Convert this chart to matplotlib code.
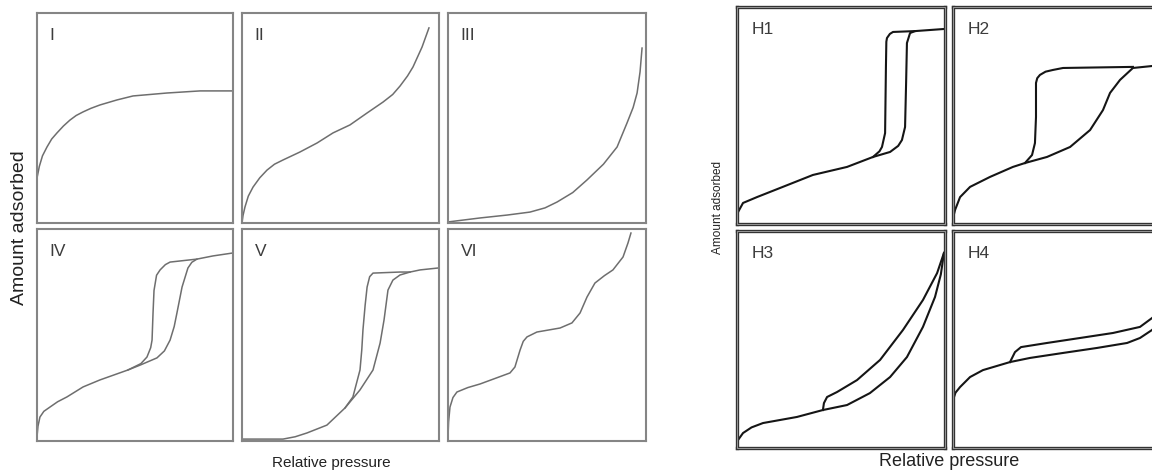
import matplotlib
matplotlib.use("Agg")
import matplotlib.pyplot as plt
from matplotlib.patches import Rectangle

plt.rcParams['font.family'] = ['Liberation Sans', 'DejaVu Sans']

# ---- IUPAC isotherm types (relative pressure vs amount adsorbed, both 0..1) ----
type_names = ["I", "II", "III", "IV", "V", "VI"]

t1_x = [0, 0.012, 0.028, 0.051, 0.075, 0.102, 0.135, 0.168, 0.200, 0.235, 0.275, 0.321, 0.408, 0.490, 0.663, 0.832, 1.0]
t1_y = [0.214, 0.270, 0.320, 0.362, 0.400, 0.429, 0.462, 0.490, 0.512, 0.529, 0.546, 0.562, 0.586, 0.605, 0.619, 0.629, 0.629]

t2_x = [0, 0.005, 0.015, 0.032, 0.056, 0.090, 0.127, 0.165, 0.208, 0.294, 0.381, 0.462, 0.548, 0.635, 0.716, 0.765, 0.802, 0.840, 0.868, 0.914, 0.949]
t2_y = [0, 0.035, 0.076, 0.128, 0.171, 0.215, 0.252, 0.280, 0.300, 0.338, 0.381, 0.429, 0.467, 0.524, 0.576, 0.612, 0.652, 0.700, 0.743, 0.838, 0.929]

t3_x = [0, 0.162, 0.300, 0.414, 0.490, 0.551, 0.630, 0.702, 0.785, 0.854, 0.904, 0.935, 0.955, 0.970, 0.980]
t3_y = [0.005, 0.024, 0.038, 0.052, 0.072, 0.100, 0.145, 0.205, 0.280, 0.362, 0.476, 0.550, 0.619, 0.720, 0.833]

# type IV: adsorption and desorption branches
t4_ads_x = [0, 0.005, 0.015, 0.035, 0.066, 0.105, 0.153, 0.235, 0.321, 0.464, 0.526, 0.612, 0.650, 0.679, 0.700, 0.714, 0.740, 0.770, 0.790, 0.816, 0.898, 1.0]
t4_ads_y = [0.019, 0.070, 0.113, 0.140, 0.160, 0.185, 0.208, 0.255, 0.288, 0.335, 0.358, 0.392, 0.425, 0.476, 0.540, 0.604, 0.726, 0.816, 0.843, 0.858, 0.873, 0.887]
t4_des_x = [0.464, 0.530, 0.561, 0.580, 0.587, 0.592, 0.597, 0.610, 0.628, 0.655, 0.679, 0.816]
t4_des_y = [0.335, 0.365, 0.396, 0.440, 0.476, 0.604, 0.710, 0.782, 0.807, 0.832, 0.844, 0.858]

t5_ads_x = [0, 0.208, 0.270, 0.330, 0.431, 0.523, 0.599, 0.665, 0.701, 0.721, 0.741, 0.766, 0.802, 0.853, 0.904, 0.995]
t5_ads_y = [0.009, 0.009, 0.020, 0.038, 0.075, 0.156, 0.241, 0.335, 0.462, 0.571, 0.712, 0.759, 0.783, 0.797, 0.807, 0.816]
t5_des_x = [0.523, 0.563, 0.599, 0.608, 0.614, 0.625, 0.635, 0.648, 0.665, 0.802, 0.853]
t5_des_y = [0.156, 0.208, 0.335, 0.430, 0.524, 0.640, 0.726, 0.775, 0.792, 0.797, 0.797]

t6_x = [0, 0.003, 0.010, 0.025, 0.045, 0.100, 0.162, 0.313, 0.338, 0.364, 0.380, 0.399, 0.449, 0.566, 0.626, 0.667, 0.702, 0.742, 0.790, 0.833, 0.884, 0.909, 0.924]
t6_y = [0.019, 0.090, 0.160, 0.205, 0.231, 0.252, 0.269, 0.321, 0.349, 0.429, 0.470, 0.491, 0.514, 0.533, 0.557, 0.604, 0.679, 0.745, 0.780, 0.807, 0.868, 0.934, 0.981]

# ---- hysteresis loop types ----
hyst_names = ["H1", "H2", "H3", "H4"]

h1_ads_x = [0, 0.005, 0.029, 0.096, 0.207, 0.365, 0.529, 0.654, 0.736, 0.775, 0.793, 0.808, 0.813, 0.817, 0.832, 0.856, 1.0]
h1_ads_y = [0.009, 0.055, 0.097, 0.124, 0.166, 0.226, 0.263, 0.309, 0.332, 0.360, 0.387, 0.447, 0.650, 0.834, 0.880, 0.889, 0.899]
h1_des_x = [0.654, 0.685, 0.697, 0.712, 0.716, 0.718, 0.721, 0.735, 0.750, 0.856]
h1_des_y = [0.309, 0.335, 0.355, 0.419, 0.724, 0.840, 0.857, 0.876, 0.885, 0.889]

h2_ads_x = [0, 0.010, 0.034, 0.082, 0.178, 0.288, 0.346, 0.452, 0.563, 0.659, 0.721, 0.755, 0.803, 0.865, 0.957, 1.0]
h2_ads_y = [0.028, 0.065, 0.124, 0.171, 0.217, 0.263, 0.281, 0.309, 0.355, 0.433, 0.525, 0.604, 0.664, 0.719, 0.728, 0.728]
h2_des_x = [0.346, 0.380, 0.394, 0.399, 0.399, 0.405, 0.418, 0.445, 0.481, 0.529, 0.865]
h2_des_y = [0.281, 0.318, 0.373, 0.493, 0.650, 0.672, 0.687, 0.702, 0.710, 0.719, 0.724]

h3_ads_x = [0, 0.005, 0.029, 0.070, 0.125, 0.288, 0.413, 0.529, 0.639, 0.736, 0.817, 0.894, 0.952, 0.980, 0.995]
h3_ads_y = [0.009, 0.037, 0.069, 0.095, 0.115, 0.143, 0.175, 0.198, 0.253, 0.327, 0.419, 0.558, 0.696, 0.800, 0.899]
h3_des_x = [0.413, 0.418, 0.433, 0.481, 0.577, 0.688, 0.798, 0.894, 0.962, 0.995]
h3_des_y = [0.175, 0.207, 0.235, 0.258, 0.313, 0.406, 0.544, 0.682, 0.806, 0.899]

h4_ads_x = [0, 0, 0.012, 0.034, 0.082, 0.144, 0.274, 0.370, 0.529, 0.692, 0.837, 0.899, 0.957, 1.0]
h4_ads_y = [0.009, 0.221, 0.255, 0.281, 0.327, 0.359, 0.396, 0.415, 0.438, 0.461, 0.484, 0.507, 0.544, 0.581]
h4_des_x = [0.274, 0.284, 0.298, 0.327, 0.452, 0.611, 0.769, 0.899, 0.957, 1.0]
h4_des_y = [0.396, 0.415, 0.442, 0.465, 0.484, 0.507, 0.530, 0.558, 0.599, 0.636]

left_curves = [
    [(t1_x, t1_y)],
    [(t2_x, t2_y)],
    [(t3_x, t3_y)],
    [(t4_ads_x, t4_ads_y), (t4_des_x, t4_des_y)],
    [(t5_ads_x, t5_ads_y), (t5_des_x, t5_des_y)],
    [(t6_x, t6_y)],
]
right_curves = [
    [(h1_ads_x, h1_ads_y), (h1_des_x, h1_des_y)],
    [(h2_ads_x, h2_ads_y), (h2_des_x, h2_des_y)],
    [(h3_ads_x, h3_ads_y), (h3_des_x, h3_des_y)],
    [(h4_ads_x, h4_ads_y), (h4_des_x, h4_des_y)],
]

W, H = 1152, 472
fig = plt.figure(figsize=(W / 100, H / 100), dpi=100)


def add_box(x0, y0, x1, y1):
    # pixel box -> figure axes
    return fig.add_axes([x0 / W, 1 - y1 / H, (x1 - x0) / W, (y1 - y0) / H])


def setup(ax):
    ax.set_xlim(0, 1)
    ax.set_ylim(0, 1)
    ax.set_xticks([])
    ax.set_yticks([])


# left group: 2 x 3
left_cols = [(37, 233), (242, 439), (448, 646)]
left_rows = [(13, 223), (229, 441)]
for i, name in enumerate(type_names):
    r, c = divmod(i, 3)
    ax = add_box(left_cols[c][0], left_rows[r][0], left_cols[c][1], left_rows[r][1])
    setup(ax)
    for sp in ax.spines.values():
        sp.set_color('#858585')
        sp.set_linewidth(1.5)
    for xs, ys in left_curves[i]:
        ax.plot(xs, ys, color='#6e6e6e', lw=1.1, solid_joinstyle='round', clip_on=False)
    ax.text(0.065, 0.93, name, transform=ax.transAxes, ha='left', va='top',
            fontsize=12.5, color='#3c3c3c')

fig.text(20 / W, 1 - 228 / H, "Amount adsorbed", rotation=90, ha='center', va='center',
         fontsize=14, color='#222222')
fig.text(331 / W, 1 - 463 / H, "Relative pressure", ha='center', va='center',
         fontsize=11, color='#222222')

# right group: 2 x 2 (right column runs off the image)
right_cols = [(737, 945), (953, 1161)]
right_rows = [(7, 224), (231, 448)]
for i, name in enumerate(hyst_names):
    r, c = divmod(i, 2)
    ax = add_box(right_cols[c][0], right_rows[r][0], right_cols[c][1], right_rows[r][1])
    setup(ax)
    for sp in ax.spines.values():
        sp.set_color('#333333')
        sp.set_linewidth(2.4)
    ax.add_patch(Rectangle((0, 0), 1, 1, transform=ax.transAxes, fill=False,
                           edgecolor='#bdbdbd', lw=0.5, zorder=5, clip_on=False))
    for xs, ys in right_curves[i]:
        ax.plot(xs, ys, color='#151515', lw=1.5, solid_joinstyle='round')
    ax.text(0.072, 0.93, name, transform=ax.transAxes, ha='left', va='top',
            fontsize=12.5, color='#3c3c3c')

fig.text(718 / W, 1 - 208 / H, "Amount adsorbed", rotation=90, ha='center', va='center',
         fontsize=8.5, color='#222222')
fig.text(949 / W, 1 - 462 / H, "Relative pressure", ha='center', va='center',
         fontsize=13, color='#222222')

fig.savefig("out.png", dpi=100)
